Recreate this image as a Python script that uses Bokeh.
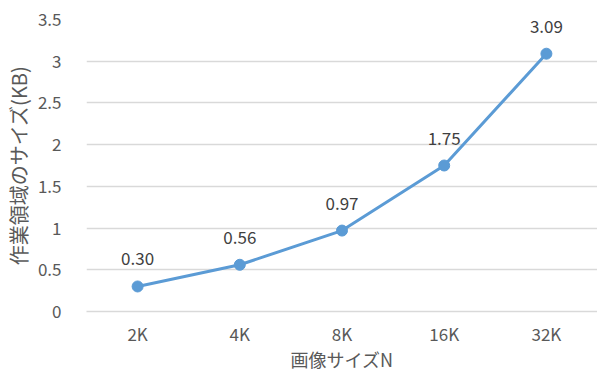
from bokeh.plotting import figure
from bokeh.models import Range1d, ColumnDataSource, FixedTicker
from bokeh.core.properties import value
from bokeh.embed import file_html
from bokeh.resources import INLINE

categories = ["2K", "4K", "8K", "16K", "32K"]
sizes_kb = [0.30, 0.56, 0.97, 1.75, 3.09]
labels = ["0.30", "0.56", "0.97", "1.75", "3.09"]
y_ticks = [0, 0.5, 1, 1.5, 2, 2.5, 3, 3.5]
y_tick_labels = ["0", "0.5", "1", "1.5", "2", "2.5", "3", "3.5"]

FONT = "Noto Sans CJK JP"
BLUE = "#5B9BD5"
GREY = "#595959"

src = ColumnDataSource(dict(x=categories, y=sizes_kb, t=labels))

p = figure(width=597, height=374, x_range=categories, y_range=Range1d(0, 3.5),
           output_backend="svg", toolbar_location=None,
           min_border_left=85, min_border_right=0, min_border_top=19, min_border_bottom=63)
p.x_range.range_padding = 0
p.outline_line_color = None
p.background_fill_color = "white"
p.border_fill_color = "white"

p.xgrid.grid_line_color = None
p.ygrid.grid_line_color = "#D9D9D9"
p.ygrid.grid_line_width = 1.3
p.ygrid.ticker = FixedTicker(ticks=y_ticks)

p.yaxis.ticker = FixedTicker(ticks=y_ticks)
p.yaxis.major_label_overrides = {t: l for t, l in zip(y_ticks, y_tick_labels)}
p.yaxis.axis_line_color = None
p.yaxis.major_tick_line_color = None
p.yaxis.minor_tick_line_color = None
p.yaxis.major_label_standoff = 19
p.yaxis.major_label_text_font = FONT
p.yaxis.major_label_text_font_size = "17px"
p.yaxis.major_label_text_color = GREY
p.yaxis.axis_label = "作業領域のサイズ(KB)"
p.yaxis.axis_label_text_font = FONT
p.yaxis.axis_label_text_font_size = "20px"
p.yaxis.axis_label_text_font_style = "normal"
p.yaxis.axis_label_text_color = GREY
p.yaxis.axis_label_standoff = 2

p.xaxis.axis_line_color = "#D9D9D9"
p.xaxis.axis_line_width = 1.3
p.xaxis.major_tick_line_color = None
p.xaxis.minor_tick_line_color = None
p.xaxis.major_label_standoff = 3
p.xaxis.major_label_text_font = FONT
p.xaxis.major_label_text_font_size = "17px"
p.xaxis.major_label_text_color = GREY
p.xaxis.axis_label = "画像サイズN"
p.xaxis.axis_label_text_font = FONT
p.xaxis.axis_label_text_font_size = "18px"
p.xaxis.axis_label_text_font_style = "normal"
p.xaxis.axis_label_text_color = GREY
p.xaxis.axis_label_standoff = -3

p.line("x", "y", source=src, line_color=BLUE, line_width=3)
p.scatter("x", "y", source=src, size=11, fill_color=BLUE, line_color=BLUE)
p.text("x", "y", text="t", source=src, y_offset=-21, text_align="center",
       text_baseline="bottom", text_font=value(FONT), text_font_size="17px",
       text_color="#404040")

open("out.html", "w").write(file_html(p, INLINE))
